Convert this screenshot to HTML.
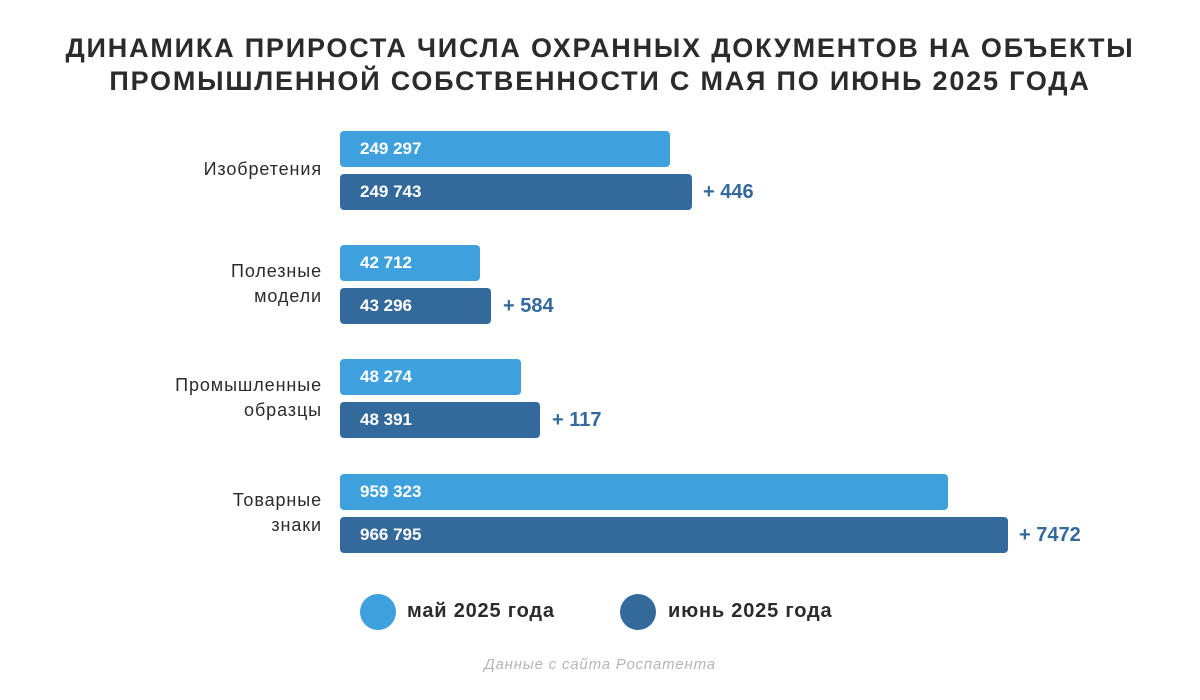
<!DOCTYPE html><html><head><meta charset="utf-8"><style>
body{margin:0;width:1200px;height:700px;background:#fff;position:relative;font-family:"Liberation Sans","DejaVu Sans",sans-serif;overflow:hidden}
.t{position:absolute;left:0;width:1200px;text-align:center;font-weight:bold;font-size:27px;color:#2b2b2b;letter-spacing:1.8px}
.b{position:absolute;left:340px;height:36px;border-radius:4px;color:#fff;font-weight:bold;font-size:17px;line-height:36px;box-sizing:border-box;padding-left:20px}
.l{background:#3fa0de}.d{background:#336a9b}
.p{position:absolute;color:#336a9b;font-weight:bold;font-size:20px;line-height:36px}
.c{position:absolute;right:878px;text-align:right;font-size:18px;color:#2b2b2b;line-height:25px;letter-spacing:0.9px}
.dot{position:absolute;width:36px;height:36px;border-radius:50%}
.lg{position:absolute;font-size:20px;font-weight:bold;color:#2b2b2b;line-height:30px;letter-spacing:0.8px}
</style></head><body>
<div class="t" style="top:33px">ДИНАМИКА ПРИРОСТА ЧИСЛА ОХРАННЫХ ДОКУМЕНТОВ НА ОБЪЕКТЫ</div>
<div class="t" style="top:66px">ПРОМЫШЛЕННОЙ СОБСТВЕННОСТИ С МАЯ ПО ИЮНЬ 2025 ГОДА</div>

<div class="c" style="top:157px">Изобретения</div>
<div class="b l" style="top:131px;width:330px">249 297</div>
<div class="b d" style="top:174px;width:352px">249 743</div>
<div class="p" style="top:174px;left:703px">+ 446</div>

<div class="c" style="top:259px">Полезные<br>модели</div>
<div class="b l" style="top:245px;width:140px">42 712</div>
<div class="b d" style="top:288px;width:151px">43 296</div>
<div class="p" style="top:288px;left:503px">+ 584</div>

<div class="c" style="top:373px">Промышленные<br>образцы</div>
<div class="b l" style="top:359px;width:181px">48 274</div>
<div class="b d" style="top:402px;width:200px">48 391</div>
<div class="p" style="top:402px;left:552px">+ 117</div>

<div class="c" style="top:488px">Товарные<br>знаки</div>
<div class="b l" style="top:474px;width:608px">959 323</div>
<div class="b d" style="top:517px;width:668px">966 795</div>
<div class="p" style="top:517px;left:1019px">+ 7472</div>

<div class="dot l" style="left:360px;top:594px"></div>
<div class="lg" style="left:407px;top:596px">май 2025 года</div>
<div class="dot d" style="left:620px;top:594px"></div>
<div class="lg" style="left:668px;top:596px">июнь 2025 года</div>
<div style="position:absolute;left:0;width:1200px;top:656px;text-align:center;font-style:italic;font-size:15px;color:#b5b5b5;letter-spacing:0.8px">Данные с сайта Роспатента</div>
</body></html>
